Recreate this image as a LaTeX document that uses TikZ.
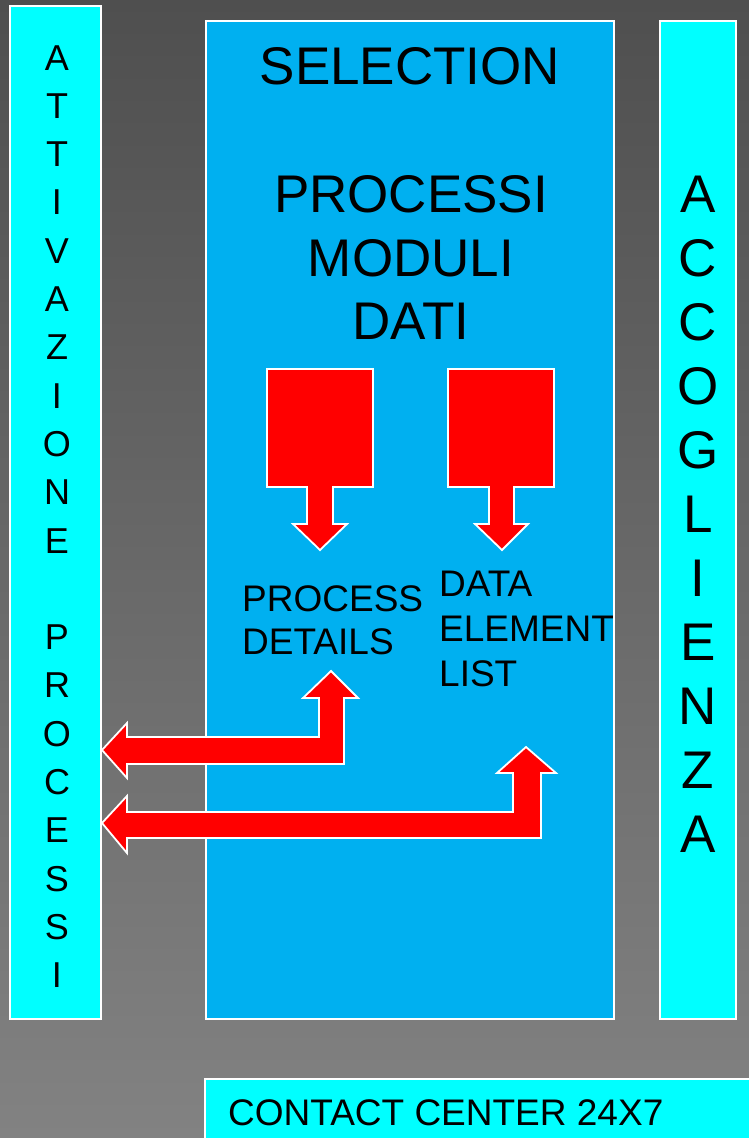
\documentclass[tikz,border=0pt]{standalone}
\usepackage{fontspec}
\setmainfont{Liberation Sans}
\begin{document}
\begin{tikzpicture}[x=1pt,y=-1pt,
  panel/.style={draw=white,line width=1.8pt},
  redarrow/.style={fill=red,draw=white,line width=1.8pt,line join=miter},
  big/.style={inner sep=0pt,font=\fontsize{53}{63}\selectfont},
  mid/.style={inner sep=0pt,font=\fontsize{37}{44}\selectfont},
  small/.style={inner sep=0pt,font=\fontsize{36}{44}\selectfont}]
\definecolor{selblue}{HTML}{00B0F0}
\definecolor{aqua}{HTML}{00FFFF}
\definecolor{bgtop}{HTML}{4F4F4F}
\definecolor{bgbot}{HTML}{828282}
\useasboundingbox (0,0) rectangle (749,1138);
\shade[top color=bgtop,bottom color=bgbot] (0,0) rectangle (749,1138);
% panels
\path[panel,fill=aqua] (10,6) rectangle (101,1019);
\path[panel,fill=selblue] (206,21) rectangle (614,1019);
\path[panel,fill=aqua] (660,21) rectangle (736,1019);
\path[panel,fill=aqua] (205,1079) rectangle (760,1150);
% titles
\node[big,anchor=base] (sel) at (410,84) {SELECTION};
\node[big,anchor=base] (proc) at (411,212) {PROCESSI};
\node[big,anchor=base] (mod) at (411,276) {MODULI};
\node[big,anchor=base] (dati) at (411,339) {DATI};
% left vertical text
\foreach \ch [count=\i from 0] in {A,T,T,I,V,A,Z,I,O,N,E,{},P,R,O,C,E,S,S,I}{
  \node[small,anchor=base] (l\i) at (57,{70+\i*48.3}) {\ch};
}
% right vertical text
\foreach \ch [count=\i from 0] in {A,C,C,O,G,L,I,E,N,Z,A}{
  \node[big,anchor=base] (r\i) at (698,{212+\i*64}) {\ch};
}
% down arrows
\draw[redarrow] (267,369) -- (373,369) -- (373,487) -- (333,487) -- (333,524) -- (347,524)
  -- (320,550) -- (293,524) -- (307,524) -- (307,487) -- (267,487) -- cycle;
\draw[redarrow] (448,369) -- (554,369) -- (554,487) -- (514,487) -- (514,524) -- (528,524)
  -- (502,550) -- (475,524) -- (489,524) -- (489,487) -- (448,487) -- cycle;
% labels
\node[mid,anchor=base west] (pd1) at (242,611) {PROCESS};
\node[mid,anchor=base west] (pd2) at (242,654) {DETAILS};
\node[mid,anchor=base west] (de1) at (439,596) {DATA};
\node[mid,anchor=base west] (de2) at (439,641) {ELEMENT};
\node[mid,anchor=base west] (de3) at (439,686) {LIST};
% bent double arrows
\draw[redarrow] (102,750) -- (127,723) -- (127,737) -- (319,737) -- (319,698) -- (303,698)
  -- (331,671) -- (358,698) -- (344,698) -- (344,764) -- (127,764) -- (127,778) -- cycle;
\draw[redarrow] (102,823) -- (127,796) -- (127,812) -- (513,812) -- (513,773) -- (497,773)
  -- (526,747) -- (556,773) -- (541,773) -- (541,838) -- (127,838) -- (127,853) -- cycle;
% bottom
\node[mid,anchor=base west] (cc) at (228,1125) {CONTACT CENTER 24X7};
\end{tikzpicture}
\end{document}
